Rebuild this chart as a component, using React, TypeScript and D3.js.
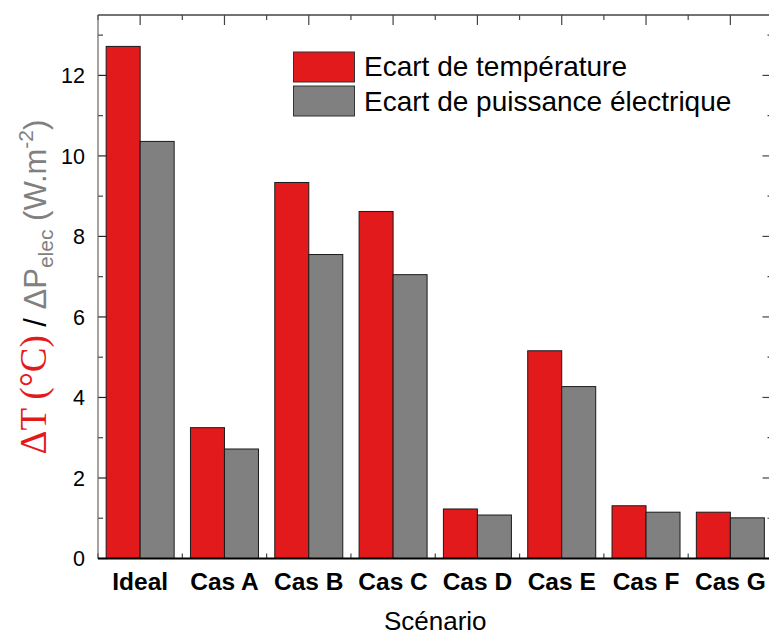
import React from "react";
import * as d3 from "d3";

const categories = ["Ideal", "Cas A", "Cas B", "Cas C", "Cas D", "Cas E", "Cas F", "Cas G"];
const seriesNames = ["Ecart de température", "Ecart de puissance électrique"];
const tempValues = [12.72, 3.25, 9.34, 8.62, 1.23, 5.16, 1.31, 1.15];
const powerValues = [10.36, 2.72, 7.55, 7.05, 1.08, 4.27, 1.15, 1.01];
const yTicks = [0, 2, 4, 6, 8, 10, 12];
const yMinorTicks = [1, 3, 5, 7, 9, 11, 13];

const W = 769;
const H = 635;
const left = 98;
const right = 772.5;
const top = 15;
const bottom = 558.5;
const colors = ["#e31a1c", "#808080"];

export default function App() {
  const x0 = d3.scaleBand<string>().domain(categories).range([left, right]).padding(0);
  const x1 = d3
    .scaleBand<string>()
    .domain(["t", "p"])
    .range([0, x0.bandwidth()])
    .paddingInner(0)
    .paddingOuter(0.24);
  const y = d3.scaleLinear().domain([0, 13.5]).range([bottom, top]);
  const series = [tempValues, powerValues];
  const keys = ["t", "p"];
  const mids = d3.range(categories.length + 1).map((i) => left + i * x0.step());
  const sans = "Arial, 'Liberation Sans', Helvetica, sans-serif";
  const serif = "'Times New Roman', 'Liberation Serif', serif";

  return (
    <svg
      width={W}
      height={H}
      style={{ position: "absolute", left: 0, top: 0, background: "#fff" }}
      fontFamily={sans}
    >
      <rect x={0} y={0} width={W} height={H} fill="#fff" />
      {yTicks.map((t) => (
        <g key={"yl" + t}>
          <line x1={left} x2={left + 10} y1={y(t)} y2={y(t)} stroke="#222" strokeWidth={1.2} />
          <line x1={right} x2={right - 10} y1={y(t)} y2={y(t)} stroke="#444" strokeWidth={1.2} />
          <text x={85} y={y(t)} dy="0.36em" textAnchor="end" fontSize={21.5} fill="#000">
            {t}
          </text>
        </g>
      ))}
      {yMinorTicks.map((t) => (
        <g key={"ym" + t}>
          <line x1={left} x2={left + 5} y1={y(t)} y2={y(t)} stroke="#444" strokeWidth={1.2} />
          <line x1={right} x2={right - 5} y1={y(t)} y2={y(t)} stroke="#444" strokeWidth={1.2} />
        </g>
      ))}
      {categories.map((c) => (
        <line
          key={"tc" + c}
          x1={x0(c)! + x0.bandwidth() / 2}
          x2={x0(c)! + x0.bandwidth() / 2}
          y1={top}
          y2={top + 10}
          stroke="#444"
          strokeWidth={1.2}
        />
      ))}
      {mids.map((m, i) => (
        <g key={"mid" + i}>
          <line x1={m} x2={m} y1={top} y2={top + 5} stroke="#444" strokeWidth={1.2} />
          <line x1={m} x2={m} y1={bottom} y2={bottom - 5} stroke="#444" strokeWidth={1.2} />
        </g>
      ))}
      {categories.map((c, i) => (
        <g key={"bar" + c}>
          {series.map((vals, s) => (
            <rect
              key={s}
              x={x0(c)! + x1(keys[s])!}
              y={y(vals[i])}
              width={x1.bandwidth()}
              height={y(0) - y(vals[i])}
              fill={colors[s]}
              stroke="#1a1a1a"
              strokeWidth={1}
            />
          ))}
        </g>
      ))}
      <line x1={left} x2={left} y1={top} y2={bottom} stroke="#666" strokeWidth={1.2} />
      <line x1={left} x2={right} y1={top} y2={top} stroke="#444" strokeWidth={1.5} />
      <line x1={right} x2={right} y1={top} y2={bottom} stroke="#444" strokeWidth={1.5} />
      <line x1={left} x2={right} y1={bottom} y2={bottom} stroke="#000" strokeWidth={2.2} />
      {categories.map((c) => (
        <text
          key={"xl" + c}
          x={x0(c)! + x0.bandwidth() / 2}
          y={590}
          textAnchor="middle"
          fontSize={24.5}
          fontWeight="bold"
          fill="#000"
        >
          {c}
        </text>
      ))}
      <text x={(left + right) / 2} y={630} textAnchor="middle" fontSize={26} fill="#000">
        Scénario
      </text>
      <text transform="translate(46,287) rotate(-90)" textAnchor="middle" fontSize={31}>
        <tspan fill="#e31a1c" fontFamily={serif} fontSize={37}>
          ΔT (°C)
        </tspan>
        <tspan fill="#000" fontWeight="normal"> / </tspan>
        <tspan fill="#808080">ΔP</tspan>
        <tspan fill="#808080" fontSize={21} dy={7}>
          elec
        </tspan>
        <tspan fill="#808080" dy={-7}>
          {" (W.m"}
        </tspan>
        <tspan fill="#808080" fontSize={21} dy={-13}>
          -2
        </tspan>
        <tspan fill="#808080" dy={13}>
          )
        </tspan>
      </text>
      {seriesNames.map((n, i) => (
        <g key={"lg" + n}>
          <rect
            x={293.5}
            y={52 + i * 34}
            width={61}
            height={30}
            fill={colors[i]}
            stroke="#333"
            strokeWidth={1}
          />
          <text x={364} y={76 + i * 34.5} fontSize={28} fill="#000">
            {n}
          </text>
        </g>
      ))}
    </svg>
  );
}
